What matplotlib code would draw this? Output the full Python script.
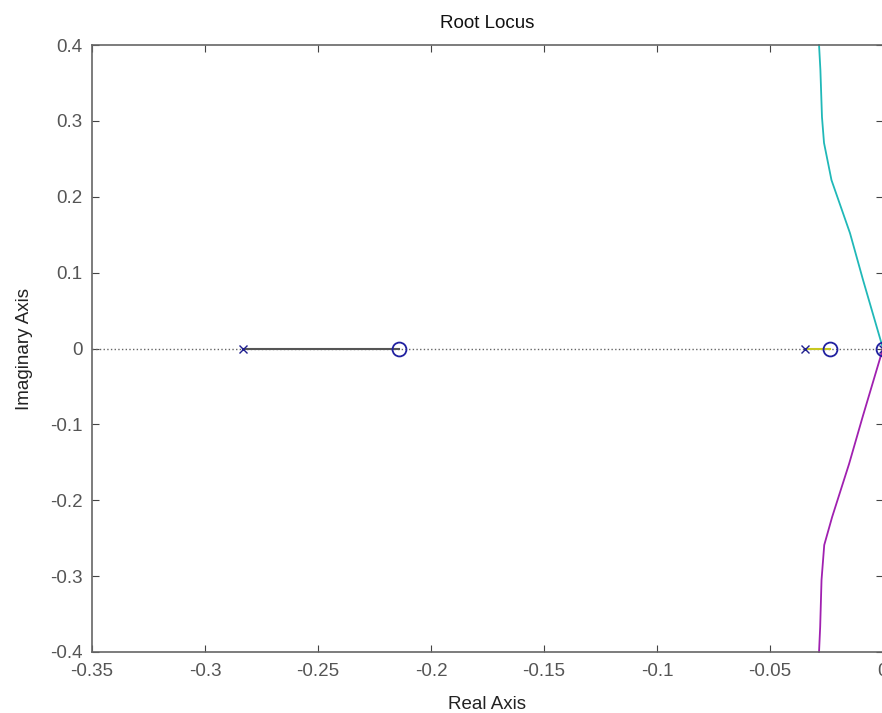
import matplotlib
matplotlib.use("Agg")
import matplotlib.pyplot as plt

plt.rcParams['font.family'] = ['Liberation Sans', 'DejaVu Sans']

# poles and zeros on the real axis
poles = [-0.283, -0.0345, 0.0]
zeros = [-0.214, -0.0235, 0.0]

# real-axis branches
gray_x = [-0.283, -0.214]
yellow_x = [-0.0345, -0.0235]

# complex branch (upper half, cyan)
branch_re = [0.0, -0.0088, -0.0146, -0.0228, -0.0261, -0.0270, -0.0277, -0.0283]
branch_im = [0.0, 0.090, 0.152, 0.222, 0.271, 0.305, 0.367, 0.40]
# lower branch (magenta)
lower_re = [0.0, -0.0090, -0.0150, -0.0225, -0.0260, -0.0272, -0.0278, -0.0283]
lower_im = [0.0, -0.090, -0.152, -0.222, -0.259, -0.305, -0.367, -0.40]

fs = 13.5

fig = plt.figure(figsize=(8.82, 7.13), dpi=100)
ax = fig.add_axes([92/882, 61/713, 791/882, 607/713])

ax.plot([-0.35, 0.0], [0, 0], color='#666666', linestyle=':', linewidth=1)
ax.plot(gray_x, [0, 0], color='#555555', linewidth=1.5)
ax.plot(yellow_x, [0, 0], color='#c8c820', linewidth=1.5)
ax.plot(branch_re, branch_im, color='#20b8b8', linewidth=1.3, clip_on=False)
ax.plot(lower_re, lower_im, color='#a020b0', linewidth=1.3, clip_on=False)
ax.plot(poles, [0]*len(poles), linestyle='none', marker='x', color='#202090',
        markersize=6, markeredgewidth=1, clip_on=False)
ax.plot(zeros, [0]*len(zeros), linestyle='none', marker='o', markerfacecolor='none',
        markeredgecolor='#2020a0', markersize=10, markeredgewidth=1.3, clip_on=False)

ax.set_xlim(-0.35, 0.0)
ax.set_ylim(-0.4, 0.4)
ax.set_xticks([-0.35, -0.3, -0.25, -0.2, -0.15, -0.1, -0.05, 0])
ax.set_xticklabels(['-0.35', '-0.3', '-0.25', '-0.2', '-0.15', '-0.1', '-0.05', '0'])
ax.set_yticks([-0.4, -0.3, -0.2, -0.1, 0, 0.1, 0.2, 0.3, 0.4])
ax.set_yticklabels(['-0.4', '-0.3', '-0.2', '-0.1', '0', '0.1', '0.2', '0.3', '0.4'])
ax.tick_params(direction='in', top=True, right=True, length=5, width=0.8,
               color='#444444', labelcolor='#555555', labelsize=fs)
ax.tick_params(axis='x', pad=8)
ax.tick_params(axis='y', pad=7)
for s in ax.spines.values():
    s.set_color('#666666')
    s.set_linewidth(1.2)

ax.set_title('Root Locus', fontsize=fs, color='#111111', pad=12)
ax.set_xlabel('Real Axis', fontsize=fs, color='#222222')
ax.set_ylabel('Imaginary Axis', fontsize=fs, color='#222222')
ax.xaxis.set_label_coords(0.5, -0.072)
ax.yaxis.set_label_coords(-0.075, 0.5)

fig.savefig('out.png', dpi=100)
